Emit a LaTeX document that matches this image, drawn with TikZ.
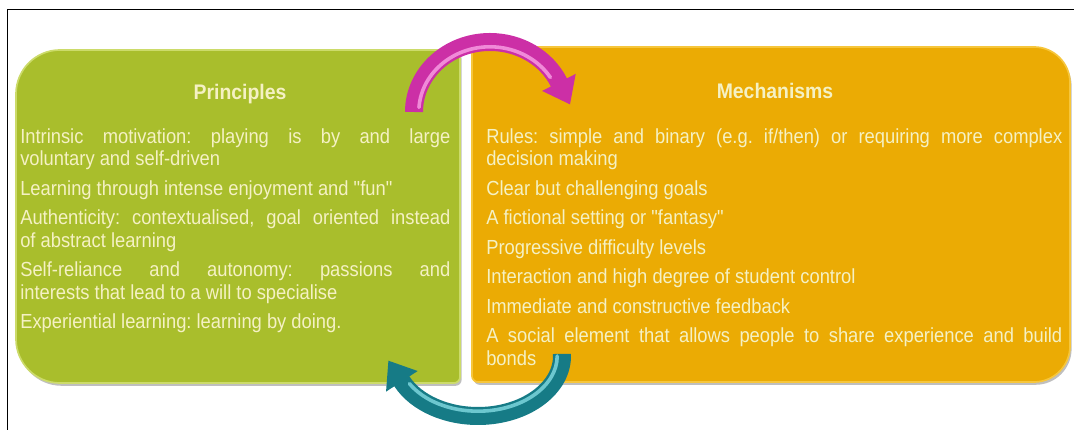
\documentclass[tikz,border=0pt]{standalone}
\usepackage{fontspec}
\usetikzlibrary{arrows.meta,calc,shadows}
\newfontfamily\listfont[FakeStretch=0.9]{Liberation Sans}
\newfontfamily\titlefont[FakeStretch=0.92]{Liberation Sans}
\definecolor{principlesgreen}{HTML}{A9BE2C}
\definecolor{principlesedge}{HTML}{CCDB6A}
\definecolor{mechanismsgold}{HTML}{EBAB04}
\definecolor{mechanismsedge}{HTML}{F6C63C}
\definecolor{paneltext}{HTML}{F5F1C4}
\definecolor{loopmagenta}{HTML}{CC2FA6}
\definecolor{loopmagentalight}{HTML}{F08AD8}
\definecolor{loopteal}{HTML}{167B86}
\definecolor{looptealight}{HTML}{6CC7CF}
\tolerance=9999
\hbadness=10000
\frenchspacing
\newcommand{\listgap}{\par\vspace{5pt}}
\tikzset{
  frame/.style={draw=black, line width=0.7pt},
  panelshadow/.style={drop shadow={shadow xshift=0.04cm, shadow yshift=-0.07cm, fill=black, opacity=0.25}},
  principlespanel/.style={fill=principlesgreen, draw=principlesedge, line width=1.2pt, panelshadow},
  mechanismspanel/.style={fill=mechanismsgold, draw=mechanismsedge, line width=1.2pt, panelshadow},
  paneltitle/.style={font={\titlefont\fontsize{15}{16}\selectfont\bfseries}, text=paneltext, anchor=base, inner sep=0pt},
  panellist/.style={font={\listfont\fontsize{14.5}{16}\selectfont}, text=paneltext, align=justify, anchor=north west, inner sep=0pt},
  loopband/.style={line width=0.45cm, line cap=butt, -{Triangle[length=0.62cm, width=0.9cm]}},
  loopshine/.style={line width=0.09cm, line cap=round},
}

\begin{document}
\begin{tikzpicture}
\useasboundingbox (0,0) rectangle (26.85,10.75);
\draw[frame] (0.175,0) -- (0.175,10.5) -- (26.85,10.5);
% the two panels
\path[principlespanel] (11.5,9.35) -- (11.5,1.325) arc[start angle=0, end angle=-90, radius=0.15]
  -- (1.5,1.175) arc[start angle=270, end angle=180, radius=1.1]
  -- (0.4,8.4) arc[start angle=180, end angle=90, radius=1.1]
  -- (11.35,9.5) arc[start angle=90, end angle=0, radius=0.15] -- cycle;
\path[mechanismspanel] (11.8,1.35) -- (11.8,9.425) arc[start angle=180, end angle=90, radius=0.15]
  -- (25.85,9.575) arc[start angle=90, end angle=0, radius=0.9]
  -- (26.75,2.1) arc[start angle=0, end angle=-90, radius=0.9]
  -- (11.95,1.2) arc[start angle=270, end angle=180, radius=0.15] -- cycle;
\node[paneltitle] (principlestitle) at (6.0,8.25) {Principles};
\node[paneltitle] (mechanismstitle) at (19.375,8.28) {Mechanisms};
\node[panellist, text width=10.75cm] (principleslist) at (0.5,7.55) {%
Intrinsic motivation: playing is by and large\linebreak voluntary and self-driven\listgap
Learning through intense enjoyment and "fun"\listgap
Authenticity: contextualised, goal oriented instead\linebreak of abstract learning\listgap
Self-reliance and autonomy: passions and\linebreak interests that lead to a will to specialise\listgap
Experiential learning: learning by doing.};
\node[panellist, text width=14.4cm] (mechanismslist) at (12.15,7.55) {%
Rules: simple and binary (e.g. if/then) or requiring more complex\linebreak decision making\listgap
Clear but challenging goals\listgap
A fictional setting or "fantasy"\listgap
Progressive difficulty levels\listgap
Interaction and high degree of student control\listgap
Immediate and constructive feedback\listgap
A social element that allows people to share experience and build\linebreak bonds};
% loop arrows between the panels
\coordinate (magentatail) at ($(12.25,7.95)+(180:1.9 and 1.75)$);
\coordinate (magentashine) at ($(12.25,7.95)+(176:1.78 and 1.63)$);
\coordinate (tealtail) at ($(11.95,1.85)+(2:2.1 and 1.5)$);
\coordinate (tealshine) at ($(11.95,1.85)+(0:1.98 and 1.38)$);
\draw[loopband, loopmagenta] (magentatail) arc[start angle=180, end angle=25, x radius=1.9, y radius=1.75] -- ++(0.28,-0.553);
\draw[loopshine, loopmagentalight] (magentashine) arc[start angle=176, end angle=32, x radius=1.78, y radius=1.63];
\draw[loopband, loopteal] (tealtail) arc[start angle=2, end angle=-155, x radius=2.1, y radius=1.5] -- ++(-0.339,0.52);
\draw[loopshine, looptealight] (tealshine) arc[start angle=0, end angle=-150, x radius=1.98, y radius=1.38];
\end{tikzpicture}
\end{document}
